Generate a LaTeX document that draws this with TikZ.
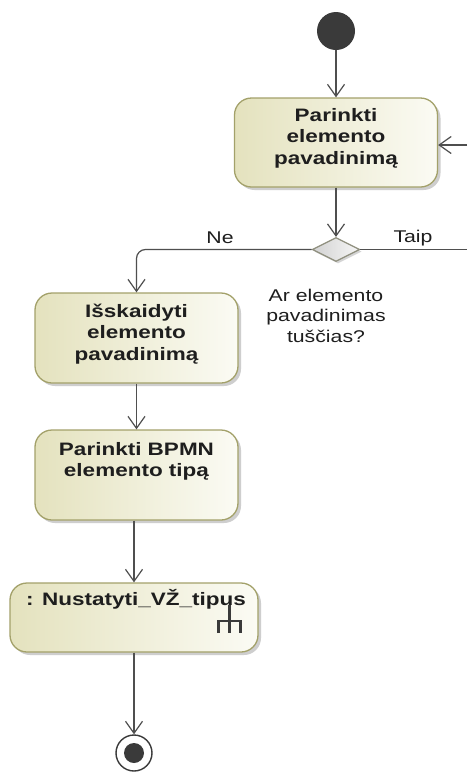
\documentclass[tikz,border=0pt]{standalone}
\usepackage{fontspec}
\setmainfont{Liberation Sans}[FakeStretch=1.25]
\usetikzlibrary{arrows.meta,shapes.geometric,shadows}

\definecolor{boxL}{HTML}{E4E2BE}
\definecolor{boxR}{HTML}{FBFBF4}
\definecolor{boxBorder}{HTML}{A3A16A}
\definecolor{flowline}{HTML}{4F4F4F}
\definecolor{dotfill}{HTML}{3A3A3A}
\definecolor{decL}{HTML}{D2D2D2}
\definecolor{decR}{HTML}{F6F6F6}
\definecolor{decBorder}{HTML}{8F8F7E}
\definecolor{inktext}{HTML}{1E1E1E}

% multi-line cell whose baseline is the first line
\newcommand{\celllines}[1]{\begin{tabular}[t]{@{}c@{}}#1\end{tabular}}

\begin{document}
\begin{tikzpicture}[x=1pt,y=-1pt,
  action/.style={draw=boxBorder, line width=1.3pt, rounded corners=17pt,
    left color=boxL, right color=boxR, inner sep=0pt,
    drop shadow={shadow xshift=3pt, shadow yshift=-3pt, opacity=0.35, fill=black!55}},
  decision/.style={diamond, aspect=2, inner sep=0pt, minimum width=47.5pt,
    minimum height=24pt, draw=decBorder, line width=1.2pt,
    left color=decL, right color=decR,
    drop shadow={shadow xshift=2pt, shadow yshift=-2pt, opacity=0.3, fill=black!55}},
  boxtext/.style={inner sep=0pt, text=inktext,
    font=\bfseries\fontsize{18}{21.5}\selectfont},
  guardtext/.style={inner sep=0pt, text=inktext,
    font=\fontsize{17}{20.5}\selectfont},
  flow/.style={draw=flowline, line width=1.2pt,
    -{Straight Barb[length=12pt,width=17pt]}},
  plainflow/.style={draw=flowline, line width=1.2pt},
  startnode/.style={circle, fill=dotfill, minimum size=38pt, inner sep=0pt},
  endring/.style={circle, draw=dotfill, line width=1.4pt, fill=white,
    minimum size=36pt, inner sep=0pt},
  enddot/.style={circle, fill=dotfill, minimum size=20pt, inner sep=0pt},
  rake/.style={draw=dotfill, line width=2.8pt}
]
\fill[white] (0,0) rectangle (467,772);
\useasboundingbox (0,0) rectangle (467,772);

% initial node
\node[startnode] (init) at (336,31) {};

% select element name
\node[action, minimum width=203pt, minimum height=89pt] (b1) at (336,142.5) {};
\node[boxtext, anchor=base] (b1t) at (336,121)
  {\celllines{Parinkti\\elemento\\pavadinimą}};

% decision
\node[decision] (dec) at (336,249.5) {};
\node[guardtext, anchor=base] (ne) at (220,243) {Ne};
\node[guardtext, anchor=base] (taip) at (413,242) {Taip};
\node[guardtext, anchor=base] (q) at (326,301)
  {\celllines{Ar elemento\\pavadinimas\\tuščias?}};

% split element name
\node[action, minimum width=203pt, minimum height=90pt] (b2) at (136.5,338) {};
\node[boxtext, anchor=base] (b2t) at (136.5,317)
  {\celllines{Išskaidyti\\elemento\\pavadinimą}};

% choose BPMN element type
\node[action, minimum width=203pt, minimum height=90pt] (b3) at (136.5,475) {};
\node[boxtext, anchor=base] (b3t) at (136.5,455)
  {\celllines{Parinkti BPMN\\elemento tipą}};

% call behaviour action
\node[action, minimum width=248pt, minimum height=69pt] (b4) at (134,617.5) {};
\node[boxtext, anchor=base] (b4t) at (136,605) {: Nustatyti\_VŽ\_tipus};
\draw[rake] (229.3,605) -- (229.3,633)
            (218.3,633) -- (218.3,621) -- (240.5,621) -- (240.5,633);

% final node
\node[endring] (fin) at (134,753) {};
\node[enddot] (findot) at (fin.center) {};

% loop-back ends beyond the right margin
\coordinate (loopin) at (467,145);
\coordinate (taipout) at (467,249.5);

% flows
\draw[flow] (init) -- (b1);
\draw[flow] (loopin) -- (loopin -| b1.east);
\draw[flow] (b1) -- (dec);
\draw[plainflow] (dec.east) -- (taipout);
\draw[flow, rounded corners=9pt] (dec.west) -| (b2.north);
\draw[flow] (b2) -- (b3);
\draw[flow] (b4.north |- b3.south) -- (b4.north);
\draw[flow] (b4) -- (fin);
\end{tikzpicture}
\end{document}
